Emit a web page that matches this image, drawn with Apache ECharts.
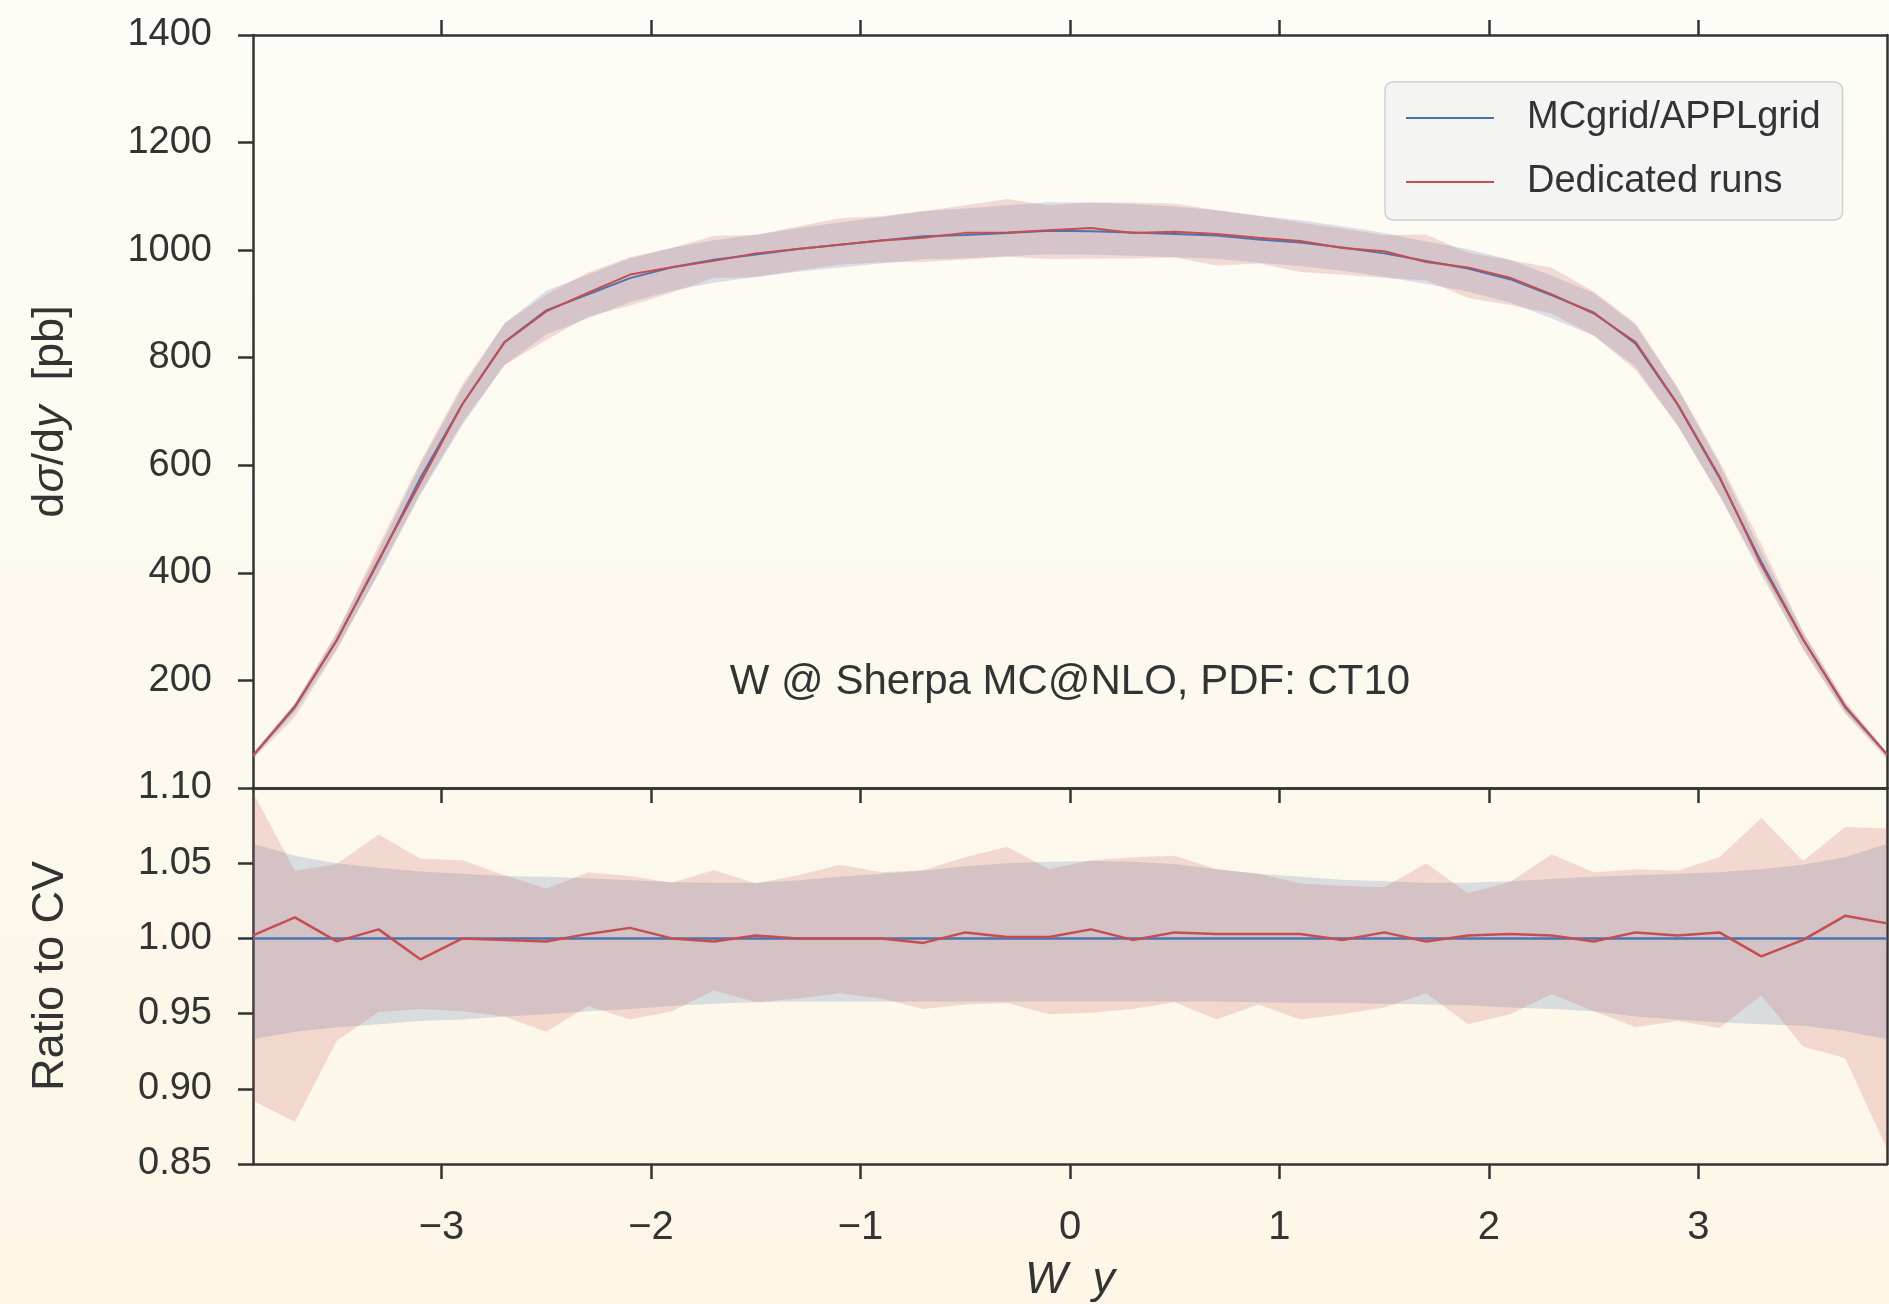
<!DOCTYPE html>
<html>
<head>
<meta charset="utf-8">
<script src="https://cdn.jsdelivr.net/npm/echarts@6/dist/echarts.min.js"></script>
<style>
  html, body { margin: 0; padding: 0; background: #fdf9ef; }
  #chart { width: 1889px; height: 1304px; }
</style>
</head>
<body>
<div id="chart"></div>
<script>
// W boson rapidity bins (bin centres)
const rapidity = [-3.9, -3.7, -3.5, -3.3, -3.1, -2.9, -2.7, -2.5, -2.3, -2.1,
                  -1.9, -1.7, -1.5, -1.3, -1.1, -0.9, -0.7, -0.5, -0.3, -0.1,
                   0.1,  0.3,  0.5,  0.7,  0.9,  1.1,  1.3,  1.5,  1.7,  1.9,
                   2.1,  2.3,  2.5,  2.7,  2.9,  3.1,  3.3,  3.5,  3.7,  3.9];

// MCgrid/APPLgrid central value, dsigma/dy [pb]
const xsecGrid = [60, 150, 275, 422, 577, 714, 829, 888, 918, 948,
                  968, 982, 992, 1002, 1010, 1018, 1026, 1028, 1032, 1036,
                  1035, 1033, 1030, 1027, 1020, 1014, 1005, 994, 980, 966,
                  946, 916, 884, 826, 713, 577, 420, 276, 150, 62];

// MCgrid/APPLgrid uncertainty band, relative to central value
const gridBandLo = [0.933, 0.938, 0.941, 0.943, 0.945, 0.946, 0.948, 0.9495, 0.9515, 0.953,
                    0.955, 0.9565, 0.9575, 0.958, 0.958, 0.958, 0.958, 0.958, 0.958, 0.958,
                    0.958, 0.958, 0.958, 0.958, 0.9575, 0.957, 0.957, 0.9565, 0.956, 0.9555,
                    0.954, 0.953, 0.9515, 0.948, 0.946, 0.944, 0.943, 0.942, 0.9385, 0.933];
const gridBandHi = [1.063, 1.055, 1.050, 1.047, 1.0445, 1.043, 1.0415, 1.041, 1.040, 1.0387,
                    1.0375, 1.037, 1.037, 1.0385, 1.041, 1.043, 1.045, 1.048, 1.050, 1.051,
                    1.0515, 1.051, 1.0495, 1.046, 1.043, 1.041, 1.039, 1.038, 1.037, 1.037,
                    1.038, 1.0395, 1.041, 1.042, 1.043, 1.044, 1.046, 1.049, 1.054, 1.063];

// Dedicated runs: central value and band, as ratio to the grid central value
const dedicatedRatio = [1.002, 1.014, 0.998, 1.006, 0.986, 1.000, 0.999, 0.998, 1.003, 1.007,
                        1.000, 0.998, 1.002, 1.000, 1.000, 1.000, 0.997, 1.004, 1.001, 1.001,
                        1.006, 0.999, 1.004, 1.003, 1.003, 1.003, 0.999, 1.004, 0.998, 1.002,
                        1.003, 1.002, 0.998, 1.004, 1.002, 1.004, 0.988, 0.999, 1.015, 1.010];
const dedicatedLo = [0.892, 0.878, 0.932, 0.951, 0.953, 0.9515, 0.948, 0.938, 0.955, 0.946,
                     0.9515, 0.9655, 0.9575, 0.960, 0.9635, 0.960, 0.953, 0.956, 0.957, 0.9495,
                     0.9505, 0.953, 0.9575, 0.946, 0.956, 0.946, 0.9495, 0.954, 0.9635, 0.943,
                     0.9495, 0.963, 0.9515, 0.941, 0.945, 0.9405, 0.962, 0.928, 0.9205, 0.860];
const dedicatedHi = [1.097, 1.045, 1.0495, 1.069, 1.053, 1.052, 1.042, 1.033, 1.044, 1.0415,
                     1.037, 1.0455, 1.0365, 1.042, 1.049, 1.044, 1.0455, 1.054, 1.061, 1.046,
                     1.052, 1.054, 1.055, 1.046, 1.043, 1.0365, 1.035, 1.034, 1.050, 1.030,
                     1.0375, 1.056, 1.044, 1.046, 1.045, 1.054, 1.080, 1.0515, 1.074, 1.073];

// Axis tick labels
const xTickValues = [-3, -2, -1, 0, 1, 2, 3];
const xsecTicks = { min: 0, max: 1400, step: 200 };
const ratioTicks = { min: 0.85, max: 1.10, step: 0.05 };

const FONT = "'Liberation Sans', Arial, sans-serif";
const INK = '#333333';
const BLUE = '#4c72b0';
const RED = '#c44e52';
const BLUE_FILL = 'rgba(76,114,176,0.20)';
const RED_FILL = 'rgba(196,78,82,0.19)';

// derived series
const xsecDedicated = xsecGrid.map((v, i) => v * dedicatedRatio[i]);
const gridRatio = xsecGrid.map((v) => v / v);
const scale = (base, rel) => base.map((v, i) => v * rel[i]);
const pairs = (ys) => rapidity.map((x, i) => [x, ys[i]]);

// filled uncertainty band drawn as one polygon in data coordinates
function band(xi, yi, lo, hi, fill) {
  return {
    type: 'custom', xAxisIndex: xi, yAxisIndex: yi, silent: true, clip: true, z: 2,
    data: rapidity.map((x, i) => [x, lo[i], hi[i]]),
    encode: { x: 0, y: [1, 2] },
    renderItem(params, api) {
      if (params.dataIndexInside !== 0) return null;
      const n = params.dataInsideLength;
      const up = [], dn = [];
      for (let j = 0; j < n; j++) {
        up.push(api.coord([api.value(0, j), api.value(2, j)]));
        dn.push(api.coord([api.value(0, j), api.value(1, j)]));
      }
      return { type: 'polygon', shape: { points: up.concat(dn.reverse()) }, style: { fill: fill } };
    }
  };
}

function line(name, xi, yi, ys, color, width) {
  return {
    type: 'line', name: name, xAxisIndex: xi, yAxisIndex: yi, data: pairs(ys),
    symbol: 'none', silent: true, z: 3,
    lineStyle: { color: color, width: width }, itemStyle: { color: color }
  };
}

const axisLine = { show: true, onZero: false, lineStyle: { color: INK, width: 2.5 } };
const tick = { show: true, inside: false, length: 15, lineStyle: { color: INK, width: 2.5 } };
const labelStyle = { fontFamily: FONT, fontSize: 38, color: INK };
const titleStyle = { fontFamily: FONT, fontSize: 45, color: INK };
const minus = (v) => (v < 0 ? '\u2212' + Math.abs(v) : String(v));

function xAxis(grid, pos, opts) {
  return Object.assign({
    type: 'value', gridIndex: grid, position: pos, min: -3.9, max: 3.9,
    axisLine: axisLine, splitLine: { show: false },
    axisTick: Object.assign({ customValues: xTickValues }, tick),
    axisLabel: { show: false, customValues: xTickValues }
  }, opts || {});
}

const chart = echarts.init(document.getElementById('chart'), null, { renderer: 'canvas' });

chart.setOption({
  animation: false,
  backgroundColor: {
    type: 'linear', x: 0, y: 0, x2: 0, y2: 1,
    colorStops: [{ offset: 0, color: '#fdfcf6' }, { offset: 1, color: '#fdf6e7' }]
  },
  textStyle: { fontFamily: FONT },
  grid: [
    { left: 253, top: 35, width: 1634, height: 753 },
    { left: 253, top: 788, width: 1634, height: 377 }
  ],
  xAxis: [
    xAxis(0, 'bottom'),
    xAxis(0, 'top'),
    xAxis(1, 'bottom', {
      axisLabel: Object.assign({ show: true, customValues: xTickValues, margin: 44, formatter: minus },
                               labelStyle, { fontSize: 40 }),
      name: '{i|W}  {i|y}', nameLocation: 'middle', nameGap: 94,
      nameTextStyle: Object.assign({ rich: { i: Object.assign({ fontStyle: 'italic' }, titleStyle) } }, titleStyle)
    }),
    xAxis(1, 'top', { axisTick: { show: false } })
  ],
  yAxis: [
    {
      type: 'value', gridIndex: 0, position: 'left',
      min: xsecTicks.min, max: xsecTicks.max, interval: xsecTicks.step,
      axisLine: axisLine, axisTick: tick, splitLine: { show: false },
      axisLabel: Object.assign({ margin: 41, formatter: (v) => (v === 0 ? '' : String(v)) }, labelStyle),
      name: 'd{i|\u03c3}/d{i|y}  [pb]', nameLocation: 'middle', nameRotate: 90, nameGap: 180,
      nameTextStyle: Object.assign({ rich: { i: Object.assign({ fontStyle: 'italic' }, titleStyle) } }, titleStyle)
    },
    {
      type: 'value', gridIndex: 0, position: 'right', min: xsecTicks.min, max: xsecTicks.max,
      axisLine: axisLine, axisTick: { show: false }, axisLabel: { show: false }, splitLine: { show: false }
    },
    {
      type: 'value', gridIndex: 1, position: 'left',
      min: ratioTicks.min, max: ratioTicks.max, interval: ratioTicks.step,
      axisLine: axisLine, axisTick: tick, splitLine: { show: false },
      axisLabel: Object.assign({ margin: 41, formatter: (v) => v.toFixed(2) }, labelStyle),
      name: 'Ratio to CV', nameLocation: 'middle', nameRotate: 90, nameGap: 180,
      nameTextStyle: titleStyle
    },
    {
      type: 'value', gridIndex: 1, position: 'right', min: ratioTicks.min, max: ratioTicks.max,
      axisLine: axisLine, axisTick: { show: false }, axisLabel: { show: false }, splitLine: { show: false }
    }
  ],
  legend: {
    orient: 'vertical', left: 1385, top: 82,
    icon: 'rect', itemWidth: 88, itemHeight: 2, itemGap: 20,
    backgroundColor: '#f4f4f2', borderColor: '#cfcfcf', borderWidth: 1.5, borderRadius: 8,
    padding: [14, 22, 16, 21],
    selectedMode: false,
    textStyle: { fontFamily: FONT, fontSize: 38, color: INK, lineHeight: 44, padding: [0, 0, 0, 28] },
    data: ['MCgrid/APPLgrid', 'Dedicated runs']
  },
  graphic: [{
    type: 'text', x: 1070, y: 682, silent: true,
    style: {
      text: 'W @ Sherpa MC@NLO, PDF: CT10', fontFamily: FONT, fontSize: 42, fill: INK,
      align: 'center', verticalAlign: 'middle'
    }
  }],
  series: [
    band(0, 0, scale(xsecGrid, gridBandLo), scale(xsecGrid, gridBandHi), BLUE_FILL),
    band(0, 0, scale(xsecGrid, dedicatedLo), scale(xsecGrid, dedicatedHi), RED_FILL),
    line('MCgrid/APPLgrid', 0, 0, xsecGrid, BLUE, 2),
    line('Dedicated runs', 0, 0, xsecDedicated, RED, 2),
    band(2, 2, gridBandLo, gridBandHi, BLUE_FILL),
    band(2, 2, dedicatedLo, dedicatedHi, RED_FILL),
    line('MCgrid/APPLgrid', 2, 2, gridRatio, BLUE, 2.5),
    line('Dedicated runs', 2, 2, dedicatedRatio, RED, 2.5)
  ]
});
</script>
</body>
</html>
